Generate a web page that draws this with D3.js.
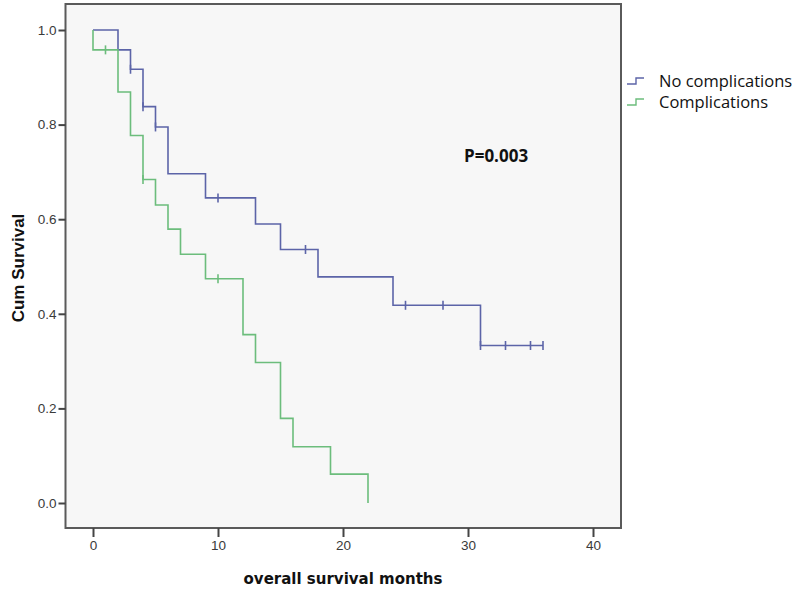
<!DOCTYPE html>
<html>
<head>
<meta charset="utf-8">
<script src="https://cdn.jsdelivr.net/npm/d3@7"></script>
<style>
  body { margin: 0; background: #fff; }
</style>
</head>
<body>
<div id="chart"></div>
<script>
//data
const xTicks = [0, 10, 20, 30, 40];
const yTicks = [0, 0.2, 0.4, 0.6, 0.8, 1.0];

// No complications: event times and survival after each step
const noCompTimes = [2, 3, 4, 5, 6, 9, 13, 15, 18, 24, 31];
const noCompSurv = [0.958, 0.917, 0.838, 0.795, 0.696, 0.645, 0.59, 0.536, 0.478, 0.418, 0.333];
const noCompEnd = 36;
const noCompCensorTimes = [3, 4, 5, 10, 17, 25, 28, 31, 33, 35, 36];

// Complications
const compTimes = [0, 2, 3, 4, 5, 6, 7, 9, 12, 13, 15, 16, 19, 22];
const compSurv = [0.958, 0.869, 0.777, 0.684, 0.63, 0.579, 0.526, 0.474, 0.356, 0.297, 0.179, 0.119, 0.061, 0.0];
const compEnd = 22;
const compCensorTimes = [1, 4, 10];

const seriesNames = ['No complications', 'Complications'];
const seriesColors = ['#5c64a8', '#6cbd7c'];
const pText = 'P=0.003';

render();

function render() {
	const width = 800;
	const height = 592;
	const frame = { left: 65.5, top: 4, right: 621, bottom: 528 };

	const x = d3.scaleLinear().domain([0, 40]).range([93, 593]);
	const y = d3.scaleLinear().domain([0, 1]).range([503, 30]);

	const svg = d3
		.select('#chart')
		.append('svg')
		.attr('width', width)
		.attr('height', height);

	// plot background + frame
	svg
		.append('rect')
		.attr('x', frame.left)
		.attr('y', frame.top)
		.attr('width', frame.right - frame.left)
		.attr('height', frame.bottom - frame.top)
		.style('fill', '#f7f7f7')
		.style('stroke', '#5a5a5a')
		.style('stroke-width', 2);

	// axes
	const yAxis = d3
		.axisLeft(y)
		.tickValues(yTicks)
		.tickFormat(d3.format('.1f'))
		.tickSize(7)
		.tickPadding(2);

	const yg = svg
		.append('g')
		.attr('transform', translation(frame.left, 0))
		.call(yAxis);

	const xAxis = d3
		.axisBottom(x)
		.tickValues(xTicks)
		.tickFormat(d3.format('d'))
		.tickSize(9)
		.tickPadding(3);

	const xg = svg
		.append('g')
		.attr('transform', translation(0, frame.bottom))
		.call(xAxis);

	[xg, yg].forEach((g) => {
		g.select('.domain').remove();
		g.selectAll('.tick line').style('stroke', '#444').style('stroke-width', 2);
		g.selectAll('.tick text')
			.style('font-family', 'Liberation Sans, Arial, sans-serif')
			.style('font-size', '13.5px')
			.style('fill', '#3a3a3a');
	});

	// axis titles
	svg
		.append('text')
		.attr('x', 343)
		.attr('y', 584)
		.style('text-anchor', 'middle')
		.style('font-family', 'DejaVu Sans, sans-serif')
		.style('font-weight', 'bold')
		.style('font-size', '15px')
		.style('fill', '#111')
		.text('overall survival months');

	svg
		.append('text')
		.attr('transform', translation(24, 268) + ' rotate(-90)')
		.style('text-anchor', 'middle')
		.style('font-family', 'Liberation Sans, Arial, sans-serif')
		.style('font-weight', 'bold')
		.style('font-size', '17px')
		.style('fill', '#111')
		.text('Cum Survival');

	// survival curves
	const line = d3
		.line()
		.x((d) => x(d[0]))
		.y((d) => y(d[1]))
		.curve(d3.curveStepAfter);

	const series = [
		{ times: noCompTimes, surv: noCompSurv, end: noCompEnd, censor: noCompCensorTimes },
		{ times: compTimes, surv: compSurv, end: compEnd, censor: compCensorTimes },
	];

	const survAt = (s, t) => {
		let v = 1;
		s.times.forEach((tt, i) => {
			if (tt <= t) v = s.surv[i];
		});
		return v;
	};

	series.forEach((s, k) => {
		const pts = [[0, 1]];
		s.times.forEach((t, i) => pts.push([t, s.surv[i]]));
		pts.push([s.end, s.surv[s.surv.length - 1]]);

		svg
			.append('path')
			.attr('d', line(pts))
			.style('fill', 'none')
			.style('stroke', seriesColors[k])
			.style('stroke-width', 1.6);

		svg
			.selectAll('.censor-' + k)
			.data(s.censor)
			.enter()
			.append('line')
			.attr('class', 'censor-' + k)
			.attr('x1', (d) => x(d))
			.attr('x2', (d) => x(d))
			.attr('y1', (d) => y(survAt(s, d)) - 4.5)
			.attr('y2', (d) => y(survAt(s, d)) + 4.5)
			.style('stroke', seriesColors[k])
			.style('stroke-width', 1.6);
	});

	// legend
	const legend = svg.append('g').attr('transform', translation(627, 0));
	seriesNames.forEach((name, i) => {
		const yy = 84 + i * 21;
		legend
			.append('path')
			.attr('d', `M0,${yy} H9 V${yy - 6} H17`)
			.style('fill', 'none')
			.style('stroke', seriesColors[i])
			.style('stroke-width', 1.4);
		legend
			.append('text')
			.attr('x', 32)
			.attr('y', yy + 3)
			.style('font-family', 'Open Sans, sans-serif')
			.style('font-size', '16.5px')
			.style('fill', '#111')
			.text(name);
	});

	// p value
	svg
		.append('text')
		.attr('x', 464)
		.attr('y', 162)
		.style('font-family', 'Open Sans, sans-serif')
		.style('font-weight', 'bold')
		.style('font-size', '17px')
		.style('fill', '#111')
		.text(pText);
}

//utils
function translation(x, y) {
	return `translate(${x}, ${y})`;
}
</script>
</body>
</html>
